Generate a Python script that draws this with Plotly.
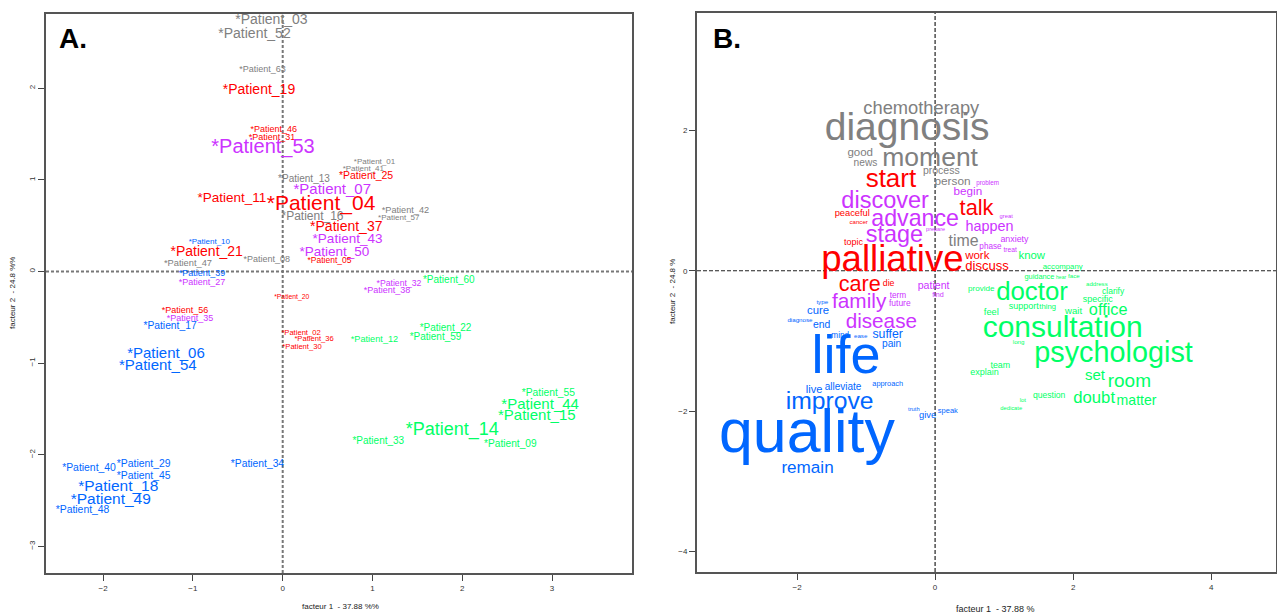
import plotly.graph_objects as go

# ---------------- Panel A : patients ----------------
pat_labels = ["*Patient_03", "*Patient_52", "*Patient_63", "*Patient_19", "*Patient_46", "*Patient_31",
              "*Patient_53", "*Patient_01", "*Patient_41", "*Patient_25", "*Patient_13", "*Patient_07",
              "*Patient_11", "*Patient_04", "*Patient_42", "*Patient_57", "*Patient_16", "*Patient_37",
              "*Patient_43", "*Patient_50", "*Patient_05", "*Patient_10", "*Patient_21", "*Patient_47",
              "*Patient_08", "*Patient_39", "*Patient_27", "*Patient_32", "*Patient_38", "*Patient_60",
              "*Patient_20", "*Patient_56", "*Patient_35", "*Patient_17", "*Patient_06", "*Patient_54",
              "*Patient_02", "*Patient_36", "*Patient_30", "*Patient_12", "*Patient_22", "*Patient_59",
              "*Patient_40", "*Patient_29", "*Patient_45", "*Patient_18", "*Patient_49", "*Patient_48",
              "*Patient_34", "*Patient_55", "*Patient_44", "*Patient_15", "*Patient_14", "*Patient_33",
              "*Patient_09"]
pat_f1 = [-0.125, -0.314, -0.225, -0.264, -0.100, -0.119,
          -0.219, 1.022, 0.898, 0.928, 0.237, 0.552,
          -0.565, 0.427, 1.367, 1.293, 0.332, 0.708,
          0.722, 0.575, 0.521, -0.817, -0.846, -1.055,
          -0.177, -0.899, -0.899, 1.295, 1.161, 1.850,
          0.101, -1.088, -1.032, -1.255, -1.300, -1.391,
          0.204, 0.349, 0.215, 1.022, 1.813, 1.702,
          -2.157, -1.548, -1.548, -1.831, -1.915, -2.229,
          -0.281, 2.958, 2.867, 2.830, 1.888, 1.065,
          2.535]
pat_f2 = [2.743, 2.590, 2.197, 1.972, 1.543, 1.456,
          1.343, 1.197, 1.121, 1.041, 1.005, 0.889,
          0.798, 0.725, 0.660, 0.580, 0.591, 0.478,
          0.344, 0.209, 0.115, 0.318, 0.205, 0.089,
          0.125, -0.027, -0.118, -0.129, -0.213, -0.093,
          -0.281, -0.427, -0.515, -0.602, -0.900, -1.031,
          -0.674, -0.736, -0.820, -0.739, -0.619, -0.718,
          -2.150, -2.110, -2.238, -2.358, -2.492, -2.612,
          -2.107, -1.328, -1.456, -1.576, -1.739, -1.856,
          -1.892]
pat_cex = [1.4, 1.4, 0.9, 1.4, 0.9, 0.9,
           2.0, 0.8, 0.8, 1.05, 1.0, 1.5,
           1.35, 2.1, 0.92, 0.8, 1.2, 1.4,
           1.35, 1.35, 0.85, 0.8, 1.4, 0.93,
           0.9, 0.9, 0.9, 0.87, 0.9, 1.0,
           0.68, 0.9, 0.9, 1.03, 1.5, 1.5,
           0.76, 0.76, 0.76, 0.92, 1.0, 1.0,
           1.04, 1.04, 1.04, 1.55, 1.55, 1.04,
           1.03, 1.03, 1.5, 1.5, 1.8, 1.0,
           1.02]
pat_class = ["G", "G", "G", "R", "R", "R",
             "M", "G", "G", "R", "G", "M",
             "R", "R", "G", "G", "G", "R",
             "M", "M", "R", "B", "R", "G",
             "G", "B", "M", "M", "M", "V",
             "R", "R", "M", "B", "B", "B",
             "R", "R", "R", "V", "V", "V",
             "B", "B", "B", "B", "B", "B",
             "B", "V", "V", "V", "V", "V",
             "V"]

# ---------------- Panel B : words ----------------
words = ["chemotherapy", "diagnosis", "good", "news", "moment", "process", "person", "time",
         "start", "talk", "peaceful", "cancer", "topic", "palliative", "work", "discuss", "care", "die",
         "begin", "problem", "discover", "advance", "great", "prepare", "happen", "stage", "anxiety",
         "phase", "treat", "patient", "find", "term", "future", "family", "disease",
         "know", "accompany", "doctor", "provide", "guidance", "hear", "face", "feel", "support",
         "thing", "address", "clarify", "specific", "wait", "office", "consultation", "long",
         "psychologist", "team", "explain", "set", "room", "question", "lot", "dedicate", "doubt",
         "matter",
         "type", "cure", "speak", "give", "truth", "diagnose", "end", "mind", "ease", "suffer",
         "pain", "life", "live", "alleviate", "approach", "improve", "quality", "remain"]
word_f1 = [-0.200, -0.405, -1.085, -1.009, -0.072, 0.090, 0.253, 0.412,
           -0.640, 0.601, -1.201, -1.107, -1.182, -0.618, 0.612, 0.753, -1.093, -0.673,
           0.475, 0.760, -0.724, -0.289, 1.030, 0.007, 0.789, -0.590, 1.150,
           0.803, 1.088, -0.022, 0.043, -0.538, -0.511, -1.100, -0.779,
           1.401, 1.849, 1.404, 0.669, 1.512, 1.826, 2.012, 0.815, 1.285,
           1.632, 2.344, 2.580, 2.356, 2.007, 2.508, 1.849, 1.211,
           2.586, 0.945, 0.716, 2.318, 2.815, 1.653, 1.271, 1.103, 2.305,
           2.920,
           -1.635, -1.696, 0.185, -0.109, -0.308, -1.958, -1.643, -1.375, -1.078, -0.687,
           -0.630, -1.291, -1.754, -1.334, -0.687, -1.527, -1.857, -1.848]
word_f2 = [2.301, 2.006, 1.674, 1.521, 1.588, 1.412, 1.269, 0.415,
           1.279, 0.866, 0.809, 0.685, 0.392, 0.130, 0.211, 0.058, -0.212, -0.192,
           1.118, 1.246, 0.984, 0.724, 0.771, 0.581, 0.620, 0.486, 0.439,
           0.343, 0.296, -0.226, -0.345, -0.355, -0.477, -0.463, -0.739,
           0.211, 0.050, -0.330, -0.264, -0.098, -0.107, -0.088, -0.591, -0.511,
           -0.520, -0.202, -0.298, -0.416, -0.583, -0.568, -0.833, -1.019,
           -1.199, -1.352, -1.452, -1.499, -1.594, -1.779, -1.850, -1.959, -1.830,
           -1.865,
           -0.454, -0.583, -1.993, -2.068, -1.983, -0.701, -0.772, -0.925, -0.939, -0.915,
           -1.043, -1.271, -1.698, -1.665, -1.617, -1.879, -2.368, -2.813]
word_cex = [1.83, 3.9, 1.15, 1.02, 2.65, 1.05, 1.18, 1.59,
            2.6, 2.18, 0.93, 0.61, 0.9, 3.66, 1.15, 1.31, 2.16, 0.88,
            1.17, 0.63, 2.35, 2.32, 0.58, 0.55, 1.44, 2.34, 0.89,
            0.82, 0.67, 1.06, 0.72, 0.83, 0.85, 2.08, 2.07,
            1.14, 0.78, 2.58, 0.81, 0.74, 0.5, 0.62, 0.93, 0.9,
            0.77, 0.61, 0.85, 0.9, 0.96, 1.63, 3.0, 0.62,
            2.88, 0.89, 0.9, 1.5, 1.9, 0.86, 0.6, 0.58, 1.67,
            1.41,
            0.62, 1.13, 0.75, 0.94, 0.58, 0.62, 1.04, 0.82, 0.62, 1.23,
            1.02, 5.4, 1.11, 1.0, 0.74, 2.47, 6.08, 1.71]
word_class = ["G"] * 8 + ["R"] * 10 + ["M"] * 17 + ["V"] * 27 + ["B"] * 18

# ---------------- styles ----------------
W, H = 1277, 614
PALETTE = {"G": "#808080", "R": "#FF0000", "M": "#CC33FF", "V": "#00FF66", "B": "#0066FF"}
FONT = "Liberation Sans, Arial, sans-serif"
BASE_A = 10.0
BASE_B = 10.0

def px_x(a, b):
    return [a / W, b / W]

def px_y(top, bottom):
    return [1 - bottom / H, 1 - top / H]

fig = go.Figure()

fig.add_trace(go.Scatter(
    x=pat_f1, y=pat_f2, text=pat_labels, mode="text", textposition="middle center",
    textfont=dict(family=FONT, size=[c * BASE_A for c in pat_cex],
                  color=[PALETTE[g] for g in pat_class]),
    xaxis="x", yaxis="y", hoverinfo="text", showlegend=False))

fig.add_trace(go.Scatter(
    x=word_f1, y=word_f2, text=words, mode="text", textposition="middle center",
    textfont=dict(family=FONT, size=[c * BASE_B for c in word_cex],
                  color=[PALETTE[g] for g in word_class]),
    xaxis="x2", yaxis="y2", hoverinfo="text", showlegend=False))

axis_common = dict(showgrid=False, zeroline=False, showline=True, mirror=True,
                   linecolor="#555555", linewidth=2, ticks="outside", ticklen=6,
                   tickwidth=1, tickcolor="#444444",
                   tickfont=dict(family=FONT, size=8, color="#333333"))

fig.update_layout(
    width=W, height=H, margin=dict(l=0, r=0, t=0, b=0),
    paper_bgcolor="white", plot_bgcolor="white",
    xaxis=dict(domain=px_x(46, 632), range=[-2.636, 3.89], tickvals=[-2, -1, 0, 1, 2, 3],
               anchor="y", **axis_common),
    yaxis=dict(domain=px_y(14, 573), range=[-3.29, 2.81], tickvals=[-3, -2, -1, 0, 1, 2],
               anchor="x", tickangle=-90, **axis_common),
    xaxis2=dict(domain=px_x(697, 1276), range=[-3.45, 4.94], tickvals=[-2, 0, 2, 4],
                anchor="y2", **axis_common),
    yaxis2=dict(domain=px_y(13, 572), range=[-4.29, 3.67], tickvals=[-4, -2, 0, 2],
                anchor="x2", **axis_common),
)

# zero reference lines
fig.add_shape(type="line", xref="x", yref="y domain", x0=0, x1=0, y0=0, y1=1,
              line=dict(color="#777777", width=2, dash="3px,2px"), layer="below")
fig.add_shape(type="line", xref="x domain", yref="y", x0=0, x1=1, y0=0, y1=0,
              line=dict(color="#777777", width=2, dash="3px,2px"), layer="below")
fig.add_shape(type="line", xref="x2", yref="y2 domain", x0=0, x1=0, y0=0, y1=1,
              line=dict(color="#222222", width=1.2, dash="4px,2px"), layer="below")
fig.add_shape(type="line", xref="x2 domain", yref="y2", x0=0, x1=1, y0=0, y1=0,
              line=dict(color="#222222", width=1.2, dash="4px,2px"), layer="below")

# panel letters and axis titles
ann = [
    dict(text="<b>A.</b>", x=57 / W, y=1 - 38 / H, xanchor="left", yanchor="middle",
         font=dict(family=FONT, size=28, color="black")),
    dict(text="<b>B.</b>", x=711 / W, y=1 - 38 / H, xanchor="left", yanchor="middle",
         font=dict(family=FONT, size=28, color="black")),
    dict(text="facteur 1  - 37.88 %%", x=340 / W, y=1 - 606 / H, xanchor="center", yanchor="middle",
         font=dict(family=FONT, size=8, color="#222222")),
    dict(text="facteur 2  - 24.8 %%", x=12 / W, y=1 - 293 / H, xanchor="center", yanchor="middle",
         textangle=-90, font=dict(family=FONT, size=8, color="#222222")),
    dict(text="facteur 1  - 37.88 %", x=995 / W, y=1 - 609 / H, xanchor="center", yanchor="middle",
         font=dict(family=FONT, size=9, color="#222222")),
    dict(text="facteur 2  - 24.8 %", x=672 / W, y=1 - 292 / H, xanchor="center", yanchor="middle",
         textangle=-90, font=dict(family=FONT, size=8, color="#222222")),
]
for a in ann:
    a.update(xref="paper", yref="paper", showarrow=False)
fig.update_layout(annotations=ann)

fig.write_html("out.html", config={"displayModeBar": False},
               post_script="document.body.style.margin='0px';")
